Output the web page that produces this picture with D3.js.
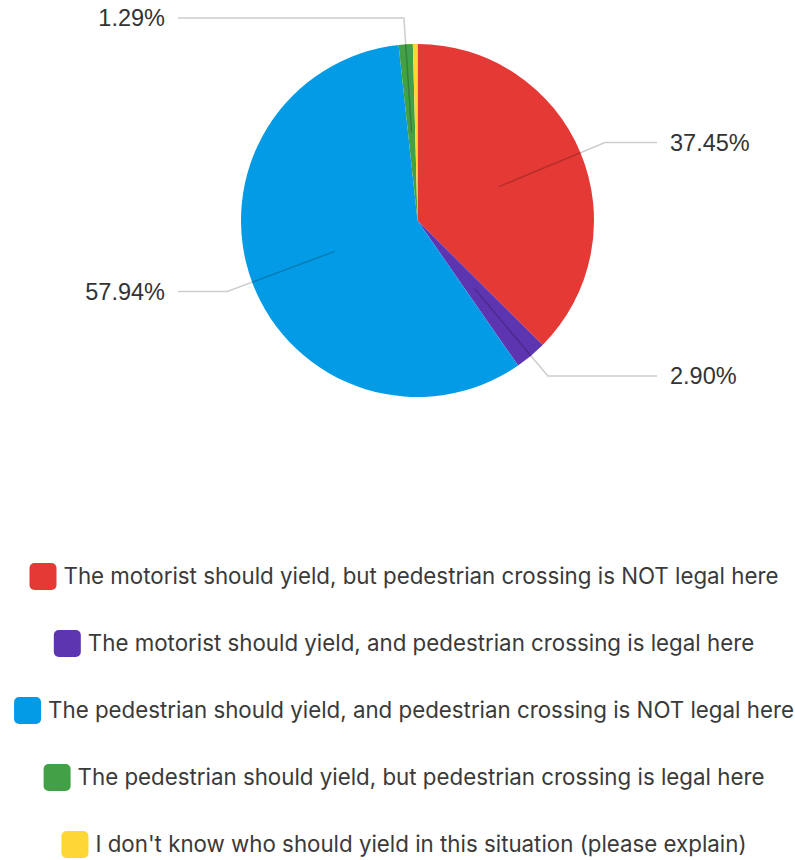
<!DOCTYPE html>
<html>
<head>
<meta charset="utf-8">
<script src="https://cdn.jsdelivr.net/npm/d3@7"></script>
<style>
  html, body { margin: 0; padding: 0; background: #fff; }
  svg { display: block; }
</style>
</head>
<body>
<svg id="chart" width="795" height="860"></svg>
<script>
// Survey answers: who should yield, and is the crossing legal?
const categories = [
  "The motorist should yield, but pedestrian crossing is NOT legal here",
  "The motorist should yield, and pedestrian crossing is legal here",
  "The pedestrian should yield, and pedestrian crossing is NOT legal here",
  "The pedestrian should yield, but pedestrian crossing is legal here",
  "I don't know who should yield in this situation (please explain)"
];
const shares = [37.45, 2.90, 57.94, 1.29, 0.42];
const sliceLabels = ["37.45%", "2.90%", "57.94%", "1.29%", null];
const colors = ["#e53935", "#5e35b1", "#039be5", "#43a047", "#fdd835"];

const svg = d3.select("#chart");
const cx = 417.5, cy = 220.5, radius = 176.5;

const data = categories.map((c, i) => ({ category: c, value: shares[i], label: sliceLabels[i], color: colors[i] }));

const pie = d3.pie().sort(null).value(d => d.value);
const arcs = pie(data);
const arc = d3.arc().innerRadius(0).outerRadius(radius);

const g = svg.append("g").attr("transform", `translate(${cx},${cy})`);

g.selectAll("path.slice")
  .data(arcs)
  .join("path")
  .attr("class", "slice")
  .attr("d", arc)
  .attr("fill", d => d.data.color);

// Leader lines: from inside the slice, out to an elbow, then horizontally to the label column
const innerArc = d3.arc().innerRadius(radius * 0.5).outerRadius(radius * 0.5);
const elbowArc = d3.arc().innerRadius(radius * 1.15).outerRadius(radius * 1.15);
const rightEnd = 657 - cx, leftEnd = 178 - cx;
const labelGap = 13;

const labelled = arcs.filter(d => d.data.label);
const mid = d => (d.startAngle + d.endAngle) / 2;
const isRight = d => mid(d) < Math.PI;

g.selectAll("polyline.leader")
  .data(labelled)
  .join("polyline")
  .attr("class", "leader")
  .attr("fill", "none")
  .attr("stroke", "rgba(0,0,0,0.2)")
  .attr("stroke-width", 1.5)
  .attr("points", d => {
    const a = innerArc.centroid(d);
    const b = elbowArc.centroid(d);
    const c = [isRight(d) ? rightEnd : leftEnd, b[1]];
    return [a, b, c].map(p => p.join(",")).join(" ");
  });

g.selectAll("text.pct")
  .data(labelled)
  .join("text")
  .attr("class", "pct")
  .attr("x", d => isRight(d) ? rightEnd + labelGap : leftEnd - labelGap)
  .attr("y", d => elbowArc.centroid(d)[1])
  .attr("dy", "0.35em")
  .attr("text-anchor", d => isRight(d) ? "start" : "end")
  .attr("font-family", "'Liberation Sans', Arial, sans-serif")
  .attr("font-size", 23.5)
  .attr("fill", "#333")
  .text(d => d.data.label);

// Legend: one centred row per answer
const rowY = d3.scalePoint().domain(d3.range(categories.length)).range([576.5, 844.5]);
const sw = 27, swGap = 7, centerX = 404;

const legend = svg.append("g").attr("class", "legend");
const rows = legend.selectAll("g.row")
  .data(data)
  .join("g")
  .attr("class", "row");

rows.append("text")
  .attr("font-family", "Inter, 'Noto Sans', sans-serif")
  .attr("font-size", 22.3)
  .attr("fill", "#3a3a3a")
  .attr("dy", "0.35em")
  .text(d => d.category);

rows.each(function(d, i) {
  const row = d3.select(this);
  const t = row.select("text");
  const w = t.node().getComputedTextLength();
  const total = sw + swGap + w;
  const x0 = centerX - total / 2;
  const y = rowY(i);
  row.insert("rect", "text")
    .attr("x", x0)
    .attr("y", y - sw / 2)
    .attr("width", sw)
    .attr("height", sw)
    .attr("rx", 5)
    .attr("fill", d.color);
  t.attr("x", x0 + sw + swGap).attr("y", y);
});
</script>
</body>
</html>
